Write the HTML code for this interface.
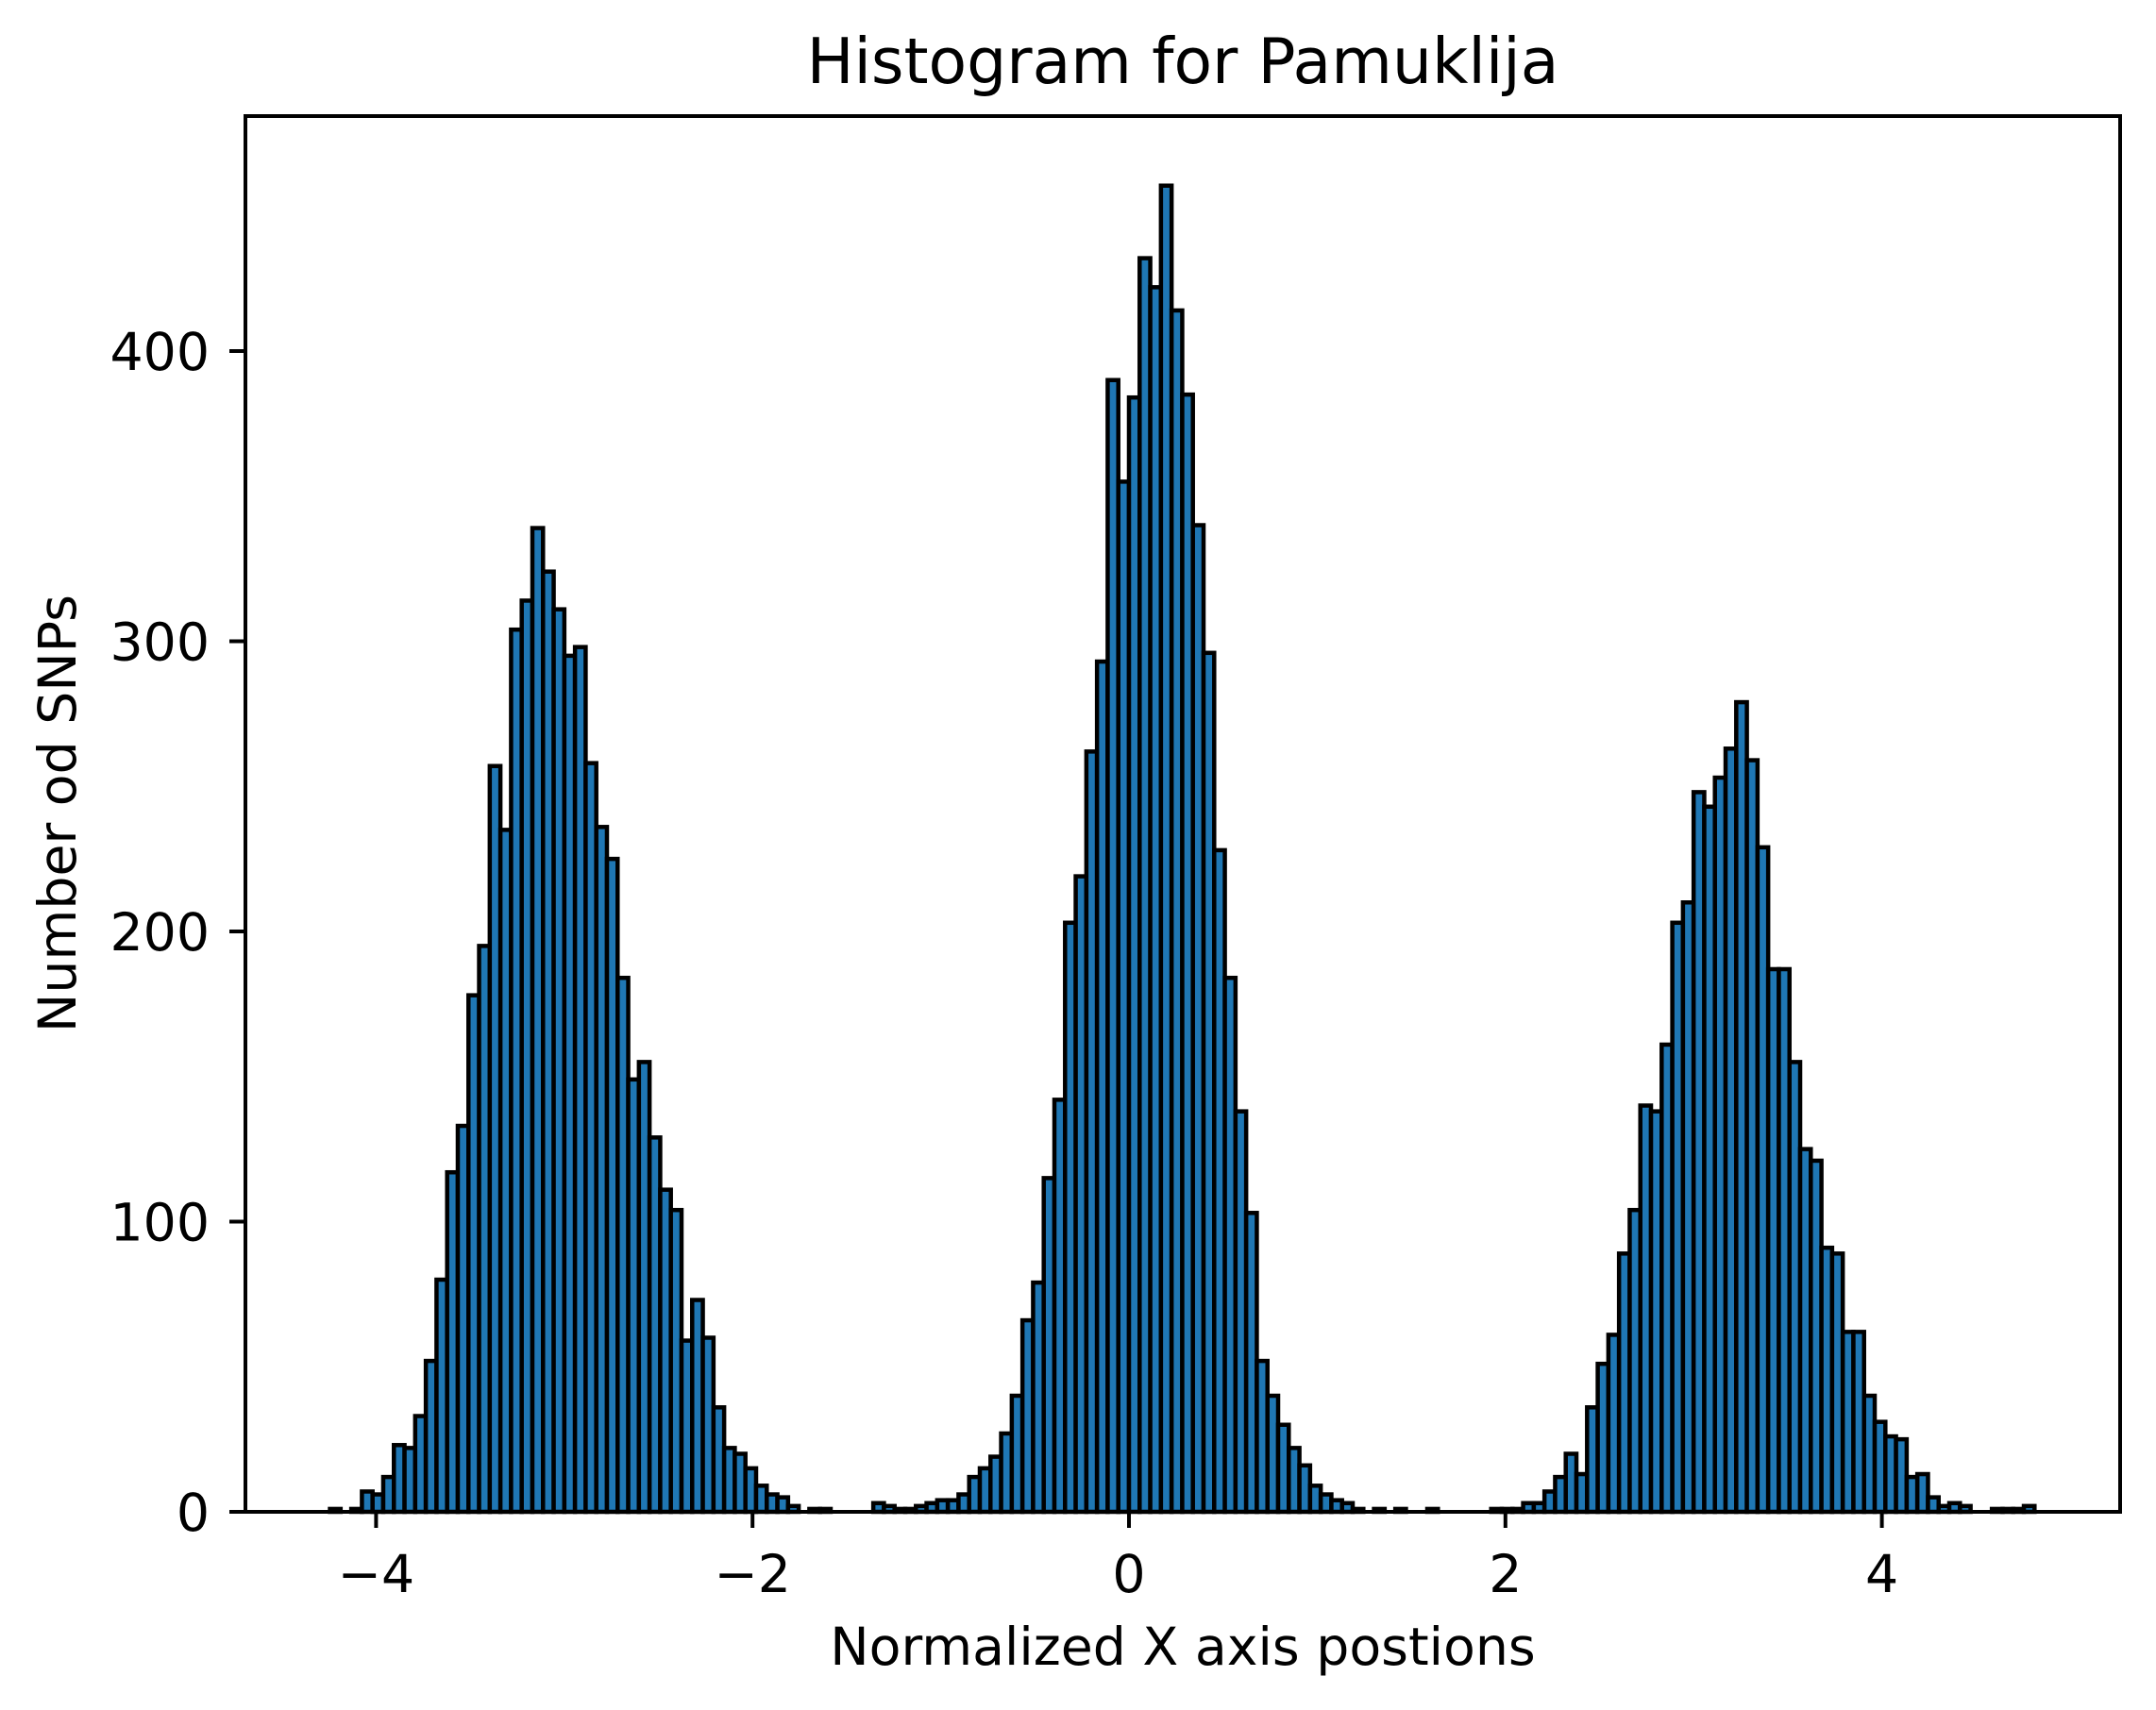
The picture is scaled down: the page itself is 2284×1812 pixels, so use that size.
<!DOCTYPE html>
<html><head><meta charset="utf-8"><style>
html,body{margin:0;padding:0;background:#fff;}
svg{display:block;font-family:"DejaVu Sans","Liberation Sans",sans-serif;}
</style></head><body>
<svg id="chart" width="2284" height="1812" viewBox="0 0 2284 1812" xmlns="http://www.w3.org/2000/svg">
<rect width="2284" height="1812" fill="#fff"/>
<text x="1253" y="88" font-size="66.4" text-anchor="middle">Histogram for Pamuklija</text>
<g id="bars"></g>
<g id="axes"></g>
<text x="1253" y="1764" font-size="55.3" text-anchor="middle">Normalized X axis postions</text>
<text transform="translate(80,862) rotate(-90)" font-size="55.3" text-anchor="middle">Number od SNPs</text>
</svg>
<script>
const binStart = -4.245;
const binWidth = 0.0566;
const counts = [1,0,1,7,6,12,23,22,33,52,80,117,133,178,195,257,235,304,314,339,324,311,295,298,258,236,225,184,149,155,129,111,104,59,73,60,36,22,20,15,9,6,5,2,0,1,1,
0,0,0,0,
3,2,1,1,2,3,4,4,6,12,15,19,27,40,66,79,115,142,203,219,262,293,390,355,384,432,422,457,414,385,340,296,228,184,138,103,52,40,30,22,16,9,6,4,3,1,0,1,
0,1,0,0,1,0,0,0,0,0,1,1,
1,3,3,7,12,20,13,36,51,61,89,104,140,138,161,203,210,248,243,253,263,279,259,229,187,187,155,125,121,91,89,62,62,40,31,26,25,12,13,5,2,3,2,0,0,1,1,1,2];
const xTicks = [-4,-2,0,2,4];
const xTickLabels = ["\u22124","\u22122","0","2","4"];
const yTicks = [0,100,200,300,400];
const yTickLabels = ["0","100","200","300","400"];

const L=260,R=2246,T=123,B=1602;
function xs(v){return 1196+v*199.4;}
function ys(v){return B-v*3.075;}
const NS="http://www.w3.org/2000/svg";
const bars=document.getElementById('bars');
counts.forEach((c,i)=>{
  if(c<=0) return;
  const x0=xs(binStart+i*binWidth), x1=xs(binStart+(i+1)*binWidth);
  const r=document.createElementNS(NS,'rect');
  r.setAttribute('x',x0);r.setAttribute('y',ys(c));
  r.setAttribute('width',x1-x0);r.setAttribute('height',B-ys(c));
  r.setAttribute('fill','#1f77b4');r.setAttribute('stroke','#000');r.setAttribute('stroke-width','4.5');
  
  
  bars.appendChild(r);
});
const axes=document.getElementById('axes');
const frame=document.createElementNS(NS,'rect');
frame.setAttribute('x',L);frame.setAttribute('y',T);frame.setAttribute('width',R-L);frame.setAttribute('height',B-T);
frame.setAttribute('fill','none');frame.setAttribute('stroke','#000');frame.setAttribute('stroke-width','4');


axes.appendChild(frame);
xTicks.forEach((t,i)=>{
  const x=xs(t);
  const l=document.createElementNS(NS,'line');
  l.setAttribute('x1',x);l.setAttribute('x2',x);l.setAttribute('y1',B);l.setAttribute('y2',B+17);
  l.setAttribute('stroke','#000');l.setAttribute('stroke-width','4');
  
  
  axes.appendChild(l);
  const tx=document.createElementNS(NS,'text');
  tx.setAttribute('x',x);tx.setAttribute('y',1687);tx.setAttribute('font-size','55.3');tx.setAttribute('text-anchor','middle');
  tx.textContent=xTickLabels[i];
  
  
  axes.appendChild(tx);
});
yTicks.forEach((t,i)=>{
  const y=ys(t);
  const l=document.createElementNS(NS,'line');
  l.setAttribute('x1',L-17);l.setAttribute('x2',L);l.setAttribute('y1',y);l.setAttribute('y2',y);
  l.setAttribute('stroke','#000');l.setAttribute('stroke-width','4');
  
  
  axes.appendChild(l);
  const tx=document.createElementNS(NS,'text');
  tx.setAttribute('x',222);tx.setAttribute('y',y+20);tx.setAttribute('font-size','55.3');tx.setAttribute('text-anchor','end');
  tx.textContent=yTickLabels[i];
  
  
  axes.appendChild(tx);
});
</script>
</body></html>
